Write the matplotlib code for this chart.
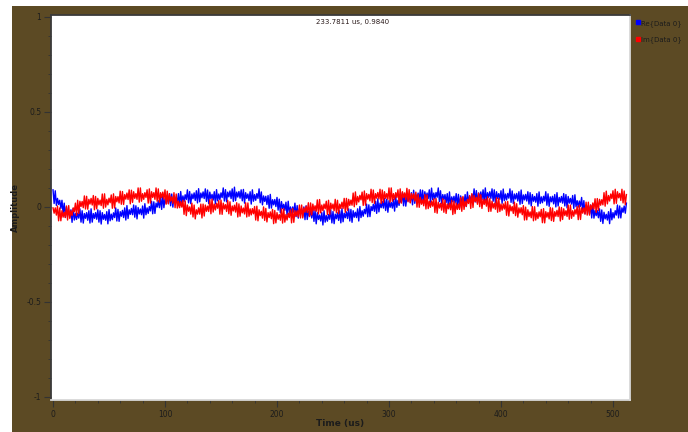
import numpy as np
import matplotlib
matplotlib.use("Agg")
import matplotlib.pyplot as plt
from matplotlib.patches import Rectangle
from matplotlib.lines import Line2D
from matplotlib.ticker import MultipleLocator, FixedLocator

# sample clock: one sample per us, 0..512 us
t_us = np.arange(513) * 1.0

# Re{Data 0} (8 samples per row)
re_vals = [
    0.09, 0.018, 0.085, 0.008, 0.045, 0.013, 0.035, -0.008,
    0.035, -0.035, 0.02, -0.055, 0.0, -0.04, -0.02, -0.055,
    -0.015, -0.081, -0.008, -0.069, -0.035, -0.066, -0.033, -0.059,
    -0.01, -0.08, -0.02, -0.085, -0.035, -0.06, -0.03, -0.07,
    -0.02, -0.085, -0.01, -0.08, -0.035, -0.06, -0.03, -0.065,
    -0.015, -0.08, -0.02, -0.09, -0.03, -0.065, -0.04, -0.07,
    -0.025, -0.089, -0.014, -0.073, -0.038, -0.067, -0.031, -0.056,
    -0.005, -0.074, -0.013, -0.076, -0.025, -0.049, -0.018, -0.056,
    -0.005, -0.069, 0.007, -0.061, -0.015, -0.039, -0.008, -0.041,
    0.01, -0.054, 0.006, -0.063, -0.003, -0.037, -0.011, -0.041,
    0.005, -0.059, 0.017, -0.041, -0.005, -0.034, 0.002, -0.021,
    0.03, -0.036, 0.027, -0.034, 0.02, -0.001, 0.033, -0.004,
    0.05, -0.013, 0.064, -0.004, 0.043, 0.019, 0.051, 0.018,
    0.07, 0.006, 0.068, -0.001, 0.06, 0.026, 0.053, 0.024,
    0.07, 0.006, 0.081, 0.022, 0.058, 0.028, 0.064, 0.039,
    0.09, 0.021, 0.081, 0.017, 0.068, 0.043, 0.074, 0.034,
    0.085, 0.021, 0.096, 0.027, 0.073, 0.048, 0.079, 0.044,
    0.095, 0.029, 0.089, 0.018, 0.078, 0.042, 0.066, 0.036,
    0.08, 0.016, 0.091, 0.032, 0.068, 0.038, 0.074, 0.049,
    0.1, 0.031, 0.091, 0.027, 0.078, 0.053, 0.084, 0.044,
    0.095, 0.029, 0.104, 0.033, 0.078, 0.052, 0.081, 0.046,
    0.09, 0.032, 0.092, 0.02, 0.075, 0.045, 0.068, 0.033,
    0.08, 0.015, 0.09, 0.03, 0.065, 0.035, 0.07, 0.045,
    0.095, 0.022, 0.079, 0.011, 0.058, 0.029, 0.056, 0.013,
    0.06, -0.007, 0.066, -0.006, 0.038, 0.011, 0.039, 0.002,
    0.05, -0.017, 0.041, -0.031, 0.028, -0.009, 0.014, -0.018,
    0.025, -0.043, 0.03, -0.033, 0.0, -0.033, 0.0, -0.028,
    0.02, -0.051, 0.007, -0.059, -0.01, -0.036, -0.008, -0.049,
    0.0, -0.067, 0.006, -0.066, -0.023, -0.049, -0.021, -0.058,
    -0.01, -0.076, -0.018, -0.089, -0.03, -0.066, -0.043, -0.074,
    -0.03, -0.095, -0.02, -0.08, -0.045, -0.075, -0.04, -0.065,
    -0.015, -0.084, -0.024, -0.088, -0.038, -0.062, -0.031, -0.071,
    -0.02, -0.084, -0.009, -0.078, -0.033, -0.057, -0.026, -0.061,
    -0.01, -0.074, -0.013, -0.081, -0.02, -0.054, -0.028, -0.056,
    -0.01, -0.074, 0.002, -0.056, -0.02, -0.049, -0.013, -0.036,
    0.015, -0.052, 0.011, -0.051, 0.002, -0.019, 0.014, -0.023,
    0.03, -0.034, 0.043, -0.026, 0.02, -0.004, 0.028, -0.006,
    0.045, -0.019, 0.041, -0.028, 0.033, -0.002, 0.024, -0.006,
    0.04, -0.022, 0.055, -0.002, 0.035, 0.008, 0.045, 0.023,
    0.075, 0.006, 0.068, 0.004, 0.055, 0.031, 0.063, 0.024,
    0.075, 0.011, 0.088, 0.019, 0.065, 0.041, 0.073, 0.039,
    0.09, 0.026, 0.088, 0.019, 0.08, 0.046, 0.073, 0.044,
    0.09, 0.024, 0.099, 0.038, 0.073, 0.042, 0.076, 0.051,
    0.1, 0.028, 0.085, 0.018, 0.065, 0.038, 0.065, 0.023,
    0.07, 0.004, 0.079, 0.008, 0.053, 0.027, 0.056, 0.021,
    0.07, 0.006, 0.066, -0.003, 0.058, 0.023, 0.049, 0.019,
    0.065, 0.002, 0.079, 0.021, 0.058, 0.029, 0.066, 0.043,
    0.095, 0.026, 0.086, 0.022, 0.073, 0.048, 0.079, 0.039,
    0.09, 0.025, 0.1, 0.03, 0.075, 0.05, 0.08, 0.045,
    0.095, 0.03, 0.09, 0.02, 0.08, 0.045, 0.07, 0.04,
    0.085, 0.019, 0.094, 0.033, 0.068, 0.037, 0.071, 0.046,
    0.095, 0.024, 0.084, 0.018, 0.068, 0.042, 0.071, 0.031,
    0.08, 0.014, 0.089, 0.018, 0.063, 0.037, 0.066, 0.031,
    0.08, 0.015, 0.075, 0.005, 0.065, 0.03, 0.055, 0.025,
    0.07, 0.004, 0.079, 0.018, 0.053, 0.022, 0.056, 0.031,
    0.08, 0.009, 0.069, 0.003, 0.053, 0.027, 0.056, 0.016,
    0.065, 0.0, 0.075, 0.005, 0.05, 0.025, 0.055, 0.02,
    0.07, 0.005, 0.065, -0.005, 0.055, 0.02, 0.045, 0.015,
    0.06, -0.008, 0.064, 0.001, 0.033, -0.001, 0.031, 0.003,
    0.05, -0.024, 0.033, -0.036, 0.01, -0.019, 0.007, -0.036,
    0.01, -0.058, 0.014, -0.059, -0.018, -0.046, -0.019, -0.057,
    -0.01, -0.076, -0.016, -0.087, -0.028, -0.063, -0.039, -0.069,
    -0.025, -0.088, -0.01, -0.068, -0.03, -0.058, -0.02, -0.043,
    0.01, -0.058, 0.005, -0.058, -0.005, -0.028, 0.005, -0.033,
    0.02,
]

# Im{Data 0}
im_vals = [
    -0.005, -0.033, -0.005, -0.043, 0.005, -0.073, -0.005, -0.073,
    -0.02, -0.054, -0.028, -0.056, 0.005, -0.069, 0.007, -0.061,
    -0.02, -0.045, -0.005, -0.025, 0.02, -0.045, 0.035, -0.035,
    0.03, 0.002, 0.029, -0.004, 0.058, -0.011, 0.056, -0.012,
    0.04, 0.015, 0.045, 0.01, 0.06, -0.015, 0.055, -0.01,
    0.045, 0.011, 0.036, 0.007, 0.068, -0.007, 0.069, -0.001,
    0.04, 0.011, 0.046, 0.022, 0.063, -0.007, 0.069, -0.006,
    0.055, 0.027, 0.054, 0.021, 0.083, 0.014, 0.081, 0.013,
    0.065, 0.041, 0.073, 0.039, 0.09, 0.016, 0.088, 0.024,
    0.08, 0.045, 0.07, 0.04, 0.1, 0.025, 0.1, 0.03,
    0.07, 0.04, 0.075, 0.05, 0.09, 0.02, 0.095, 0.02,
    0.08, 0.05, 0.075, 0.04, 0.1, 0.03, 0.095, 0.025,
    0.075, 0.049, 0.078, 0.041, 0.09, 0.014, 0.083, 0.016,
    0.07, 0.031, 0.053, 0.019, 0.075, -0.004, 0.068, -0.006,
    0.03, -0.004, 0.028, -0.001, 0.035, -0.039, 0.032, -0.046,
    0.01, -0.023, 0.0, -0.038, 0.02, -0.053, 0.01, -0.063,
    -0.015, -0.038, -0.005, -0.038, 0.015, -0.058, 0.015, -0.048,
    0.01, -0.023, 0.004, -0.024, 0.037, -0.036, 0.041, -0.027,
    0.015, -0.016, 0.019, -0.007, 0.033, -0.038, 0.036, -0.039,
    0.02, -0.011, 0.012, -0.024, 0.035, -0.036, 0.027, -0.044,
    0.005, -0.021, 0.009, -0.027, 0.022, -0.053, 0.016, -0.049,
    0.005, -0.031, -0.006, -0.037, 0.022, -0.053, 0.021, -0.049,
    -0.01, -0.042, -0.009, -0.036, 0.002, -0.069, 0.004, -0.073,
    -0.015, -0.046, -0.023, -0.059, 0.0, -0.071, -0.008, -0.079,
    -0.03, -0.056, -0.026, -0.062, -0.013, -0.088, -0.019, -0.084,
    -0.03, -0.065, -0.04, -0.07, -0.01, -0.085, -0.01, -0.08,
    -0.04, -0.069, -0.033, -0.056, -0.015, -0.084, -0.008, -0.081,
    -0.02, -0.048, -0.02, -0.053, 0.01, -0.058, 0.01, -0.058,
    -0.005, -0.028, 0.004, -0.029, 0.022, -0.051, 0.021, -0.042,
    0.015, -0.019, 0.006, -0.023, 0.037, -0.037, 0.039, -0.031,
    0.01, -0.02, 0.015, -0.01, 0.03, -0.04, 0.035, -0.04,
    0.02, -0.01, 0.015, -0.02, 0.04, -0.03, 0.035, -0.035,
    0.015, -0.008, 0.025, -0.008, 0.045, -0.028, 0.045, -0.018,
    0.04, 0.008, 0.036, 0.009, 0.073, 0.001, 0.079, 0.012,
    0.055, 0.026, 0.061, 0.037, 0.078, 0.008, 0.084, 0.009,
    0.07, 0.041, 0.066, 0.032, 0.093, 0.023, 0.089, 0.019,
    0.07, 0.046, 0.076, 0.042, 0.093, 0.018, 0.089, 0.024,
    0.08, 0.045, 0.07, 0.04, 0.1, 0.025, 0.1, 0.03,
    0.07, 0.04, 0.075, 0.05, 0.09, 0.02, 0.095, 0.02,
    0.08, 0.049, 0.074, 0.038, 0.098, 0.027, 0.091, 0.021,
    0.07, 0.042, 0.069, 0.031, 0.078, -0.001, 0.066, -0.002,
    0.05, 0.014, 0.038, 0.006, 0.065, -0.011, 0.063, -0.009,
    0.03, -0.002, 0.031, 0.004, 0.043, -0.029, 0.044, -0.033,
    0.025, -0.006, 0.019, -0.017, 0.043, -0.028, 0.036, -0.034,
    0.015, -0.01, 0.02, -0.015, 0.035, -0.04, 0.03, -0.035,
    0.02, -0.013, 0.015, -0.013, 0.05, -0.023, 0.055, -0.013,
    0.03, 0.003, 0.04, 0.018, 0.06, -0.008, 0.07, -0.003,
    0.06, 0.028, 0.051, 0.014, 0.073, 0.001, 0.064, -0.008,
    0.04, 0.013, 0.041, 0.004, 0.053, -0.024, 0.044, -0.023,
    0.03, -0.006, 0.019, -0.012, 0.048, -0.028, 0.046, -0.024,
    0.015, -0.017, 0.016, -0.011, 0.027, -0.044, 0.029, -0.048,
    0.01, -0.021, 0.002, -0.034, 0.025, -0.046, 0.017, -0.054,
    -0.005, -0.032, -0.004, -0.041, 0.007, -0.069, -0.001, -0.068,
    -0.015, -0.051, -0.026, -0.057, 0.002, -0.073, 0.001, -0.069,
    -0.03, -0.061, -0.026, -0.052, -0.013, -0.083, -0.009, -0.084,
    -0.025, -0.054, -0.029, -0.063, -0.003, -0.072, -0.006, -0.076,
    -0.025, -0.049, -0.018, -0.051, 0.0, -0.074, -0.003, -0.066,
    -0.01, -0.045, -0.02, -0.05, 0.01, -0.065, 0.01, -0.06,
    -0.02, -0.049, -0.014, -0.038, 0.002, -0.067, 0.009, -0.066,
    -0.005, -0.033, -0.005, -0.038, 0.025, -0.043, 0.025, -0.043,
    0.01, -0.012, 0.021, -0.011, 0.043, -0.029, 0.044, -0.018,
    0.04, 0.009, 0.038, 0.011, 0.075, 0.004, 0.083, 0.016,
    0.06, 0.031, 0.068, 0.044, 0.085, 0.016, 0.093, 0.019,
    0.08, 0.048, 0.071, 0.034, 0.093, 0.021, 0.084, 0.012,
    0.065,
]

series_names = ["Re{Data 0}", "Im{Data 0}"]
series_colors = ["#0000ff", "#ff0000"]
y_ticks = [-1, -0.5, 0, 0.5, 1]
y_tick_labels = ["-1", "-0.5", "0", "0.5", "1"]
x_ticks = [0, 100, 200, 300, 400, 500]
marker_text = "233.7811 us, 0.9840"

brown = "#5c4a24"
dark = "#1c1c1c"

fig = plt.figure(figsize=(6.88, 4.32), dpi=100, facecolor="white")
# brown widget background (white margin at top and left)
fig.patches.append(Rectangle((12 / 688, 0), 1 - 12 / 688, 1 - 6 / 432,
                             transform=fig.transFigure, facecolor=brown,
                             edgecolor="none", zorder=-10))

ax = fig.add_axes([51 / 688, 32 / 432, 579 / 688, 385 / 432])
ax.set_zorder(5)
ax.set_facecolor("white")

ax.plot(t_us, re_vals, color=series_colors[0], lw=1.0)
ax.plot(t_us, im_vals, color=series_colors[1], lw=1.0)

ax.set_xlim(-1.8, 515.2)
ax.set_ylim(-1.016, 1.010)

ax.yaxis.set_major_locator(FixedLocator(y_ticks))
ax.set_yticklabels(y_tick_labels)
ax.yaxis.set_minor_locator(MultipleLocator(0.1))
ax.xaxis.set_major_locator(FixedLocator(x_ticks))
ax.xaxis.set_minor_locator(MultipleLocator(20))

ax.tick_params(axis="both", which="major", direction="out", length=5,
               width=0.8, color="#333333", labelsize=5.5, labelcolor=dark, pad=2)
ax.tick_params(axis="both", which="minor", direction="out", length=2.5,
               width=0.6, color="#333333")

for side in ["left", "top"]:
    ax.spines[side].set_color("#3a3a3a")
    ax.spines[side].set_linewidth(1.3)
for side in ["right", "bottom"]:
    ax.spines[side].set_color("#d8d8d8")
    ax.spines[side].set_linewidth(1.3)

ax.set_ylabel("Amplitude", fontsize=6, fontweight="bold", color=dark)
ax.yaxis.set_label_coords(-0.053, 0.5)
ax.set_xlabel("Time (us)", fontsize=6.5, fontweight="bold", color=dark)
ax.xaxis.set_label_coords(0.5, -0.049)

ax.text(0.52, 0.982, marker_text, transform=ax.transAxes, ha="center",
        va="center", fontsize=5, color="#2a1a1a")

handles = [Line2D([], [], color=c, marker="s", markersize=3, linestyle="none")
           for c in series_colors]
ax.legend(handles, series_names, loc="upper left", bbox_to_anchor=(1.0, 1.0),
          frameon=False, fontsize=5, handletextpad=0.1, handlelength=0.8,
          labelspacing=1.4, borderaxespad=0.3, labelcolor=dark)

fig.savefig("out.png", dpi=100, facecolor=fig.get_facecolor())
